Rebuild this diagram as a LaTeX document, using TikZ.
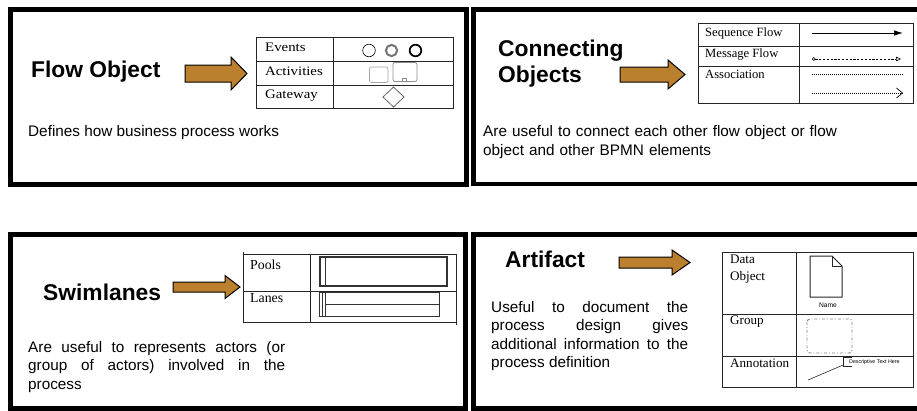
\documentclass[tikz,border=0pt]{standalone}
\usepackage{fontspec}
\setmainfont{Liberation Serif}
\newfontfamily\sansf{Liberation Sans}
\newfontfamily\serifw{Liberation Serif}[FakeStretch=1.14]
\usetikzlibrary{arrows.meta}
\definecolor{arrowfill}{RGB}{187,128,45}
\newcommand\BigArr[7]{% name, x0, xh, xt, yc, body half, head half
  \draw[bigarrow] ({#2},{#5-#6}) coordinate (#1) -- ({#3},{#5-#6}) -- ({#3},{#5-#7}) -- ({#4},{#5}) -- ({#3},{#5+#7}) -- ({#3},{#5+#6}) -- ({#2},{#5+#6}) -- cycle;}
\tikzset{
  panel/.style={draw=black, line width=4.5pt},
  tbl/.style={draw=black!85, line width=0.9pt},
  title/.style={font=\sansf\bfseries\fontsize{22.8}{25.5}\selectfont, inner sep=0pt, anchor=base west, align=left},
  desc/.style={font=\sansf\fontsize{15.3}{19}\selectfont, inner sep=0pt, anchor=base west},
  lbl/.style={inner sep=0pt, anchor=base west},
  bigarrow/.style={fill=arrowfill, draw=black, line width=1pt},
}
\begin{document}
\begin{tikzpicture}[x=1pt,y=-1pt]
\useasboundingbox (0,0) rectangle (917,410);
\clip (0,0) rectangle (917,410);
\fill[white] (0,0) rectangle (917,410);

% ---------- panels ----------
\draw[panel] (10.5,9.5) rectangle (466.5,184.5);
\draw[panel] (473.5,9.5) rectangle (930,184);
\draw[panel] (10.5,234.5) rectangle (465.5,408.5);
\draw[panel] (473.5,234.5) rectangle (930,408.5);

% ---------- panel 1: Flow Object ----------
\node[title] (t1) at (31,77) {Flow Object};
\BigArr{a1}{185}{231}{247}{73.5}{8.5}{16.5}
\draw[tbl] (256,37) rectangle (453,108);
\draw[tbl] (333,37) -- (333,108);
\draw[tbl] (256,61) -- (453,61);
\draw[tbl] (256,85) -- (453,85);
\node[lbl, font=\serifw\fontsize{13}{15}\selectfont] (l11) at (265,51) {Events};
\node[lbl, font=\serifw\fontsize{13}{15}\selectfont] (l12) at (265,75) {Activities};
\node[lbl, font=\serifw\fontsize{13}{15}\selectfont] (l13) at (265,98) {Gateway};
\draw[black, line width=0.6pt] (369,50.5) circle (6.3);
\draw[black!55, line width=2pt] (391.5,50.5) circle (5.6);
\draw[black, line width=1.7pt] (415.5,50.5) circle (5.8);
\draw[black!35, line width=0.7pt, rounded corners=2pt] (369.5,67) rectangle (388,82.5);
\draw[black!45, line width=0.8pt, rounded corners=2pt] (393,62.5) rectangle (417,81.5);
\draw[black!45, line width=0.6pt] (402.5,78) rectangle (406.5,81.5);
\draw[black!60, line width=0.8pt] (393.5,87) -- (404,97) -- (393.5,107) -- (383,97) -- cycle;
\node[desc] (d1) at (28,136) {Defines how business process works};

% ---------- panel 2: Connecting Objects ----------
\node[title] (t2) at (498,82) {Connecting\\Objects};
\BigArr{a2}{620}{668}{685}{74.5}{7.5}{14.5}
\draw[tbl] (698,23) rectangle (913,103);
\draw[tbl] (799,23) -- (799,103);
\draw[tbl] (698,46) -- (913,46);
\draw[tbl] (698,66.5) -- (913,66.5);
\node[lbl, font=\fontsize{12.6}{14}\selectfont] (l21) at (705,36) {Sequence Flow};
\node[lbl, font=\fontsize{12.6}{14}\selectfont] (l22) at (705,57) {Message Flow};
\node[lbl, font=\fontsize{12.6}{14}\selectfont] (l23) at (705,78) {Association};
\coordinate (sf1) at (812,33); \coordinate (sf2) at (903,33);
\coordinate (mf1) at (812,59); \coordinate (mf2) at (901,59);
\coordinate (as1) at (812,74); \coordinate (as2) at (903,74);
\coordinate (ar1) at (812,93); \coordinate (ar2) at (903,93);
\draw[line width=0.8pt, -{Latex[length=9pt,width=5.5pt]}] (sf1) -- (sf2);
\draw[line width=0.5pt, dash pattern=on 2.2pt off 1.6pt, {Circle[open,length=3.6pt,width=3.6pt,line width=0.6pt]}-{Triangle[open,length=5pt,width=4.5pt,line width=0.6pt]}] (mf1) -- (mf2);
\draw[line width=0.6pt, dash pattern=on 1pt off 1pt] (as1) -- (as2);
\draw[line width=0.6pt, dash pattern=on 1pt off 1pt, -{Straight Barb[length=6pt,width=10pt,line width=0.7pt]}] (ar1) -- (ar2);
\node[desc, text width=400pt, align=left] (d2) at (483,136) {Are useful to connect each other flow object or flow\\object and other BPMN elements};

% ---------- panel 3: Swimlanes ----------
\node[title] (t3) at (43,300) {Swimlanes};
\BigArr{a3}{173}{225}{240}{287}{5}{11.5}
\draw[tbl] (243,254) rectangle (456,322);
\draw[tbl] (310,254) -- (310,322);
\draw[tbl] (243,291) -- (456,291);
\draw[black!85, line width=0.6pt] (243,254) -- (243,251.5);
\draw[black!85, line width=0.6pt] (456,322) -- (456,325);
\node[lbl, font=\fontsize{13.8}{15}\selectfont] (l31) at (250,269) {Pools};
\node[lbl, font=\fontsize{13.8}{15}\selectfont] (l32) at (250,302) {Lanes};
\draw[black!80, line width=1.2pt] (320,257) rectangle (447,286);
\draw[black!80, line width=0.8pt] (325,257) -- (325,286);
\draw[black!80, line width=1pt] (319,292) rectangle (439,316);
\draw[black!80, line width=0.6pt] (322,292) -- (322,316);
\draw[black!80, line width=0.6pt] (325,292) -- (325,316);
\draw[black!80, line width=0.6pt] (325,304) -- (439,304);
\node[desc, text width=257pt, align=justify, font=\sansf\fontsize{15.3}{18.5}\selectfont] (d3) at (28,352) {Are useful to represents actors (or\linebreak group of actors) involved in the\linebreak process};

% ---------- panel 4: Artifact ----------
\node[title] (t4) at (505,267) {Artifact};
\BigArr{a4}{619}{672}{690}{262.5}{5.5}{12.5}
\draw[tbl] (722,252) rectangle (913,387);
\draw[tbl] (796,252) -- (796,387);
\draw[tbl] (722,314) -- (913,314);
\draw[tbl] (722,356) -- (913,356);
\node[lbl, align=left, font=\fontsize{13.1}{17}\selectfont] (l41) at (730,280) {Data\\Object};
\node[lbl, font=\fontsize{13.1}{15}\selectfont] (l42) at (730,324) {Group};
\node[lbl, font=\fontsize{13.1}{15}\selectfont] (l43) at (730,367) {Annotation};
\draw[black!85, line width=1pt] (810,256) -- (832,256) -- (842,266) -- (842,297) -- (810,297) -- cycle;
\draw[black!85, line width=0.8pt] (832,256) -- (832,266) -- (842,266);
\node[inner sep=0pt, font=\sansf\fontsize{6.7}{8}\selectfont] (nm) at (828,305) {Name};
\draw[black!50, line width=0.9pt, dash pattern=on 3pt off 2pt on 0.8pt off 2pt, rounded corners=3pt] (807,319) rectangle (852,353);
\coordinate (an1) at (808,380);
\coordinate (an2) at (843,365);
\draw[black!85, line width=0.6pt] (an1) -- (an2);
\draw[black!85, line width=0.6pt] (852,357.5) -- (843,357.5) -- (843,366) -- (852,366);
\node[lbl, font=\sansf\fontsize{5.3}{6}\selectfont] (dt) at (849,363.5) {Descriptive Text Here};
\node[desc, text width=197pt, align=justify, font=\sansf\fontsize{15.3}{18.5}\selectfont] (d4) at (491,312) {Useful to document the\linebreak process design gives\linebreak additional information to the\linebreak process definition};
\end{tikzpicture}
\end{document}
